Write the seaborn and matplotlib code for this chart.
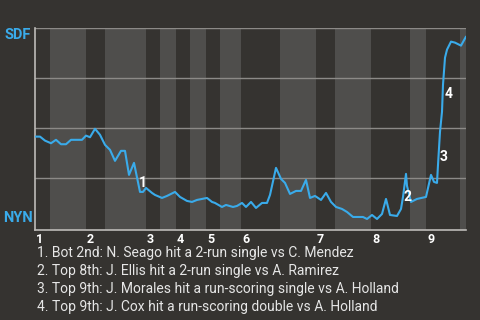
import matplotlib
matplotlib.use("Agg")
import matplotlib.pyplot as plt
import matplotlib.transforms as mtrans
import seaborn as sns
import pandas as pd

# ---- data ----
play_x = [0, 5, 10, 16, 21, 26, 31, 36, 47, 51, 55, 60, 65, 70, 75, 80, 86, 90, 94, 99,
          105, 108, 111, 117, 120, 127, 132, 140, 145, 152, 157, 162, 167, 172, 177, 180,
          187, 191, 198, 202, 207, 211, 216, 221, 227, 232, 235, 241, 246, 250, 255, 261,
          266, 271, 275, 280, 286, 291, 296, 301, 307, 312, 318, 328, 332, 337, 342, 347,
          351, 355, 362, 366, 368, 371, 372, 376, 382, 391, 396, 399, 402, 403, 405, 407,
          408, 410, 412, 416, 420, 426, 431]
win_prob = [0.458, 0.458, 0.438, 0.425, 0.442, 0.420, 0.420, 0.442, 0.442, 0.463, 0.455,
            0.497, 0.467, 0.417, 0.392, 0.337, 0.387, 0.387, 0.267, 0.327,
            0.182, 0.182, 0.202, 0.177, 0.167, 0.152, 0.162, 0.182, 0.157, 0.137, 0.132,
            0.142, 0.147, 0.152, 0.132, 0.127,
            0.107, 0.117, 0.107, 0.112, 0.127, 0.107, 0.132, 0.102, 0.127, 0.127, 0.167,
            0.302, 0.247, 0.227, 0.172, 0.187,
            0.187, 0.242, 0.152, 0.162, 0.142, 0.177, 0.132, 0.107, 0.097, 0.082, 0.057,
            0.057, 0.047, 0.067, 0.047, 0.072,
            0.147, 0.067, 0.062, 0.097, 0.157, 0.272, 0.212, 0.132, 0.147, 0.157, 0.267,
            0.232, 0.227, 0.317, 0.482, 0.582,
            0.717, 0.852, 0.892, 0.932, 0.927, 0.912, 0.957]
half_inning_starts = [0, 15, 51, 70, 111, 125, 141, 155, 171, 185, 206, 245, 281, 300,
                      336, 375, 391, 425]
game_end = 431
inning_labels = ["1", "2", "3", "4", "5", "6", "7", "8", "9"]
team_top = "SDF"
team_bottom = "NYN"
event_labels = ["1", "2", "3", "4"]
event_x = [108, 373, 409, 414]
event_y = [0.227, 0.157, 0.357, 0.672]
event_texts = [
    "1. Bot 2nd: N. Seago hit a 2-run single vs C. Mendez",
    "2. Top 8th: J. Ellis hit a 2-run single vs A. Ramirez",
    "3. Top 9th: J. Morales hit a run-scoring single vs A. Holland",
    "4. Top 9th: J. Cox hit a run-scoring double vs A. Holland",
]

# ---- style ----
BG = "#353330"
LIGHT = "#4f4e4c"
LINE = "#3aabea"
sns.set_style("dark")
plt.rcParams["font.family"] = ["Roboto", "DejaVu Sans"]

fig = plt.figure(figsize=(4.8, 3.2), dpi=100, facecolor=BG)
ax = fig.add_axes([35 / 480, 1 - 230 / 320, 431 / 480, 202 / 320])
ax.set_facecolor(BG)

bounds = half_inning_starts + [game_end]
for i in range(len(half_inning_starts)):
    if i % 2 == 1:
        ax.axvspan(bounds[i], bounds[i + 1], color=LIGHT, lw=0, zorder=0)

for gy in [0.25, 0.5, 0.75, 1.0]:
    ax.axhline(gy, color="#8c8a87", lw=1.0, zorder=1)

df = pd.DataFrame({"play": play_x, "wp": win_prob})
sns.lineplot(data=df, x="play", y="wp", ax=ax, color=LINE, lw=1.5, zorder=3)

for lab, ex, ey in zip(event_labels, event_x, event_y):
    ax.text(ex, ey, lab, color="white", fontsize=10, fontweight="bold",
            ha="center", va="center", zorder=4)

ax.set_xlim(0, game_end)
ax.set_ylim(-0.008, 1.0)
ax.set_xlabel("")
ax.set_ylabel("")
ax.set_yticks([])
inning_starts = half_inning_starts[0::2]
ax.set_xticks(inning_starts)
ax.set_xticklabels(inning_labels, color="white", fontsize=9, fontweight="bold", ha="left")
ax.tick_params(axis="x", length=0, pad=2)
offset = mtrans.ScaledTranslation(1 / 100, 0, fig.dpi_scale_trans)
for lbl in ax.get_xticklabels():
    lbl.set_transform(lbl.get_transform() + offset)

for side in ["top", "right"]:
    ax.spines[side].set_visible(False)
for side in ["left", "bottom"]:
    ax.spines[side].set_visible(True)
    ax.spines[side].set_color("#bdbbb8")
    ax.spines[side].set_linewidth(1.2)

fig.text(18 / 480, 1 - 35 / 320, team_top, color=LINE, fontsize=10.5, fontweight="bold",
         ha="center", va="center")
fig.text(18 / 480, 1 - 218 / 320, team_bottom, color=LINE, fontsize=10.5, fontweight="bold",
         ha="center", va="center")

for i, t in enumerate(event_texts):
    fig.text(37 / 480, 1 - (253.5 + i * 17.7) / 320, t, color="#e6e6e6", fontsize=10,
             ha="left", va="center")

fig.savefig("out.png", dpi=100, facecolor=BG)
